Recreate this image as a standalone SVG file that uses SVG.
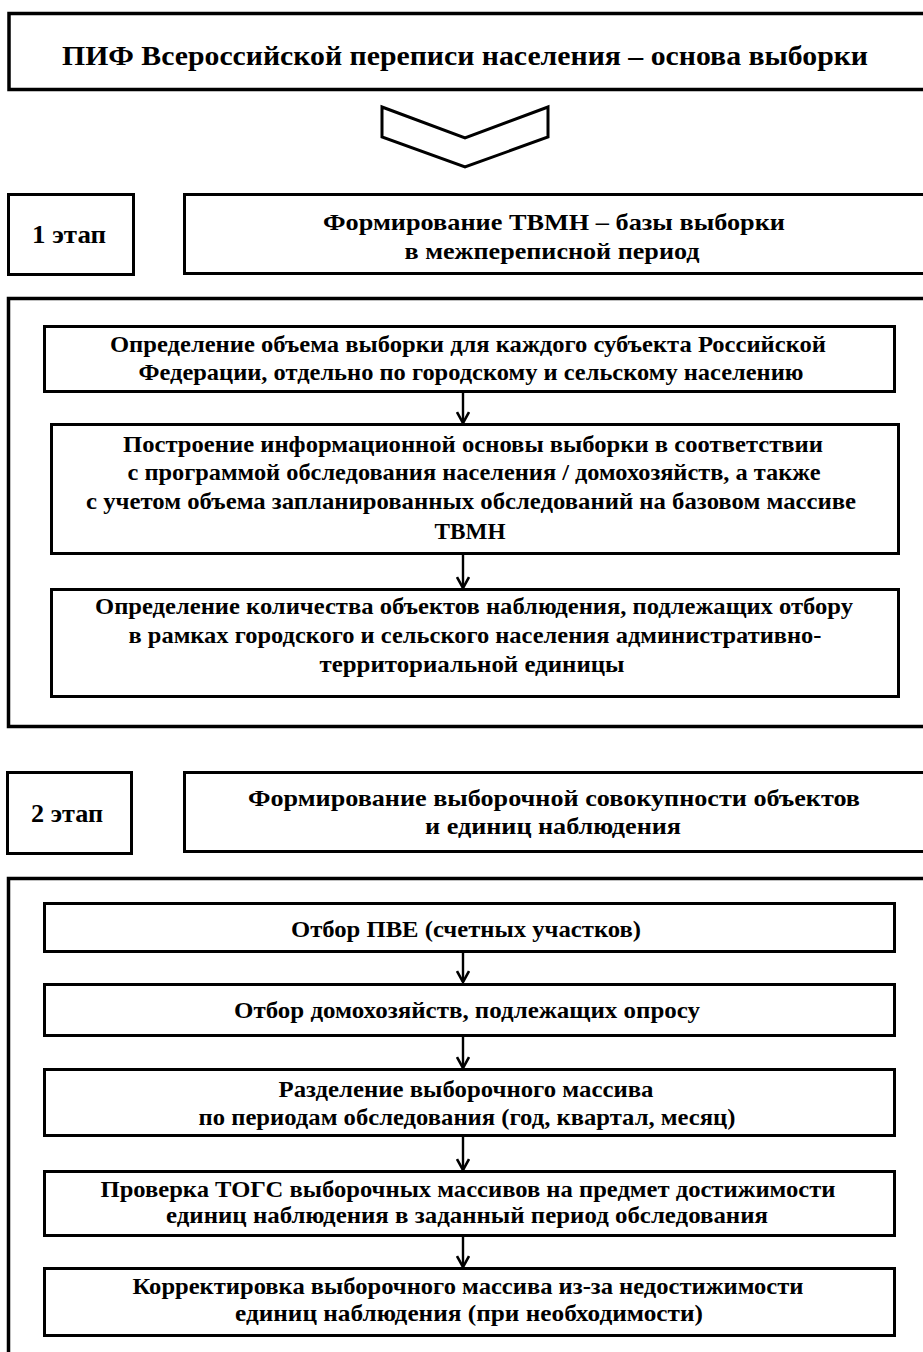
<svg xmlns="http://www.w3.org/2000/svg" width="923" height="1352" viewBox="0 0 923 1352">
<style>
  .box { fill: #ffffff; stroke: #000000; stroke-width: 3; }
  .outer { fill: #ffffff; stroke: #000000; stroke-width: 3.5; }
  .t { font-family: "Liberation Serif", "Times New Roman", serif; font-weight: bold; fill: #000000; text-anchor: middle; }
  .hdr { font-size: 27px; }
  .ttl { font-size: 24px; }
  .stg { font-size: 25px; }
  .in { font-size: 23px; }
  .conn { stroke: #000000; stroke-width: 2.4; fill: none; }
</style>
<defs>
  <marker id="arr" viewBox="0 0 14 14" refX="12" refY="7" markerWidth="14" markerHeight="14" markerUnits="userSpaceOnUse" orient="auto">
    <path d="M1,1 L12,7 L1,13" fill="none" stroke="#000000" stroke-width="2.6"/>
  </marker>
</defs>
<rect x="0" y="0" width="923" height="1352" fill="#ffffff"/>

<g id="header">
  <rect class="outer" x="9" y="13.5" width="930" height="76"/>
  <text class="t hdr" x="465" y="65" textLength="806" lengthAdjust="spacingAndGlyphs">ПИФ Всероссийской переписи населения – основа выборки</text>
</g>

<g id="chevron">
  <polygon points="382,107 465,138 548,107 548,137 465,167 382,137" fill="#ffffff" stroke="#000000" stroke-width="3" stroke-linejoin="miter"/>
</g>

<g id="stage1-label">
  <rect class="box" x="8.5" y="194.5" width="125" height="80"/>
  <text class="t stg" x="69" y="243" textLength="74" lengthAdjust="spacingAndGlyphs">1 этап</text>
</g>

<g id="stage1-title">
  <rect class="box" x="184.5" y="194.5" width="760" height="79"/>
  <text class="t ttl" x="554" y="230" textLength="462" lengthAdjust="spacingAndGlyphs">Формирование ТВМН – базы выборки</text>
  <text class="t ttl" x="552" y="259" textLength="295" lengthAdjust="spacingAndGlyphs">в межпереписной период</text>
</g>

<g id="stage1-frame">
  <rect class="outer" x="8.5" y="298.5" width="930" height="428"/>
</g>

<g id="step-a">
  <rect class="box" x="44.5" y="326.5" width="850" height="65"/>
  <text class="t in" x="468" y="352" textLength="716" lengthAdjust="spacingAndGlyphs">Определение объема выборки для каждого субъекта Российской</text>
  <text class="t in" x="471" y="380" textLength="665" lengthAdjust="spacingAndGlyphs">Федерации, отдельно по городскому и сельскому населению</text>
</g>

<g id="step-b">
  <rect class="box" x="51.5" y="424.5" width="847" height="129"/>
  <text class="t in" x="473" y="452" textLength="700" lengthAdjust="spacingAndGlyphs">Построение информационной основы выборки в соответствии</text>
  <text class="t in" x="474" y="480" textLength="693" lengthAdjust="spacingAndGlyphs">с программой обследования населения / домохозяйств, а также</text>
  <text class="t in" x="471" y="509" textLength="770" lengthAdjust="spacingAndGlyphs">с учетом объема запланированных обследований на базовом массиве</text>
  <text class="t in" x="470" y="539" textLength="71" lengthAdjust="spacingAndGlyphs">ТВМН</text>
</g>

<g id="step-c">
  <rect class="box" x="51.5" y="589.5" width="847" height="107"/>
  <text class="t in" x="474" y="614" textLength="758" lengthAdjust="spacingAndGlyphs">Определение количества объектов наблюдения, подлежащих отбору</text>
  <text class="t in" x="475" y="643" textLength="693" lengthAdjust="spacingAndGlyphs">в рамках городского и сельского населения административно-</text>
  <text class="t in" x="472" y="672" textLength="305" lengthAdjust="spacingAndGlyphs">территориальной единицы</text>
</g>

<g id="stage2-label">
  <rect class="box" x="7.5" y="772.5" width="124" height="81"/>
  <text class="t stg" x="67" y="822" textLength="72" lengthAdjust="spacingAndGlyphs">2 этап</text>
</g>

<g id="stage2-title">
  <rect class="box" x="184.5" y="772.5" width="760" height="79"/>
  <text class="t ttl" x="554" y="806" textLength="612" lengthAdjust="spacingAndGlyphs">Формирование выборочной совокупности объектов</text>
  <text class="t ttl" x="553" y="834" textLength="256" lengthAdjust="spacingAndGlyphs">и единиц наблюдения</text>
</g>

<g id="stage2-frame">
  <rect class="outer" x="8.5" y="878.5" width="930" height="500"/>
</g>

<g id="step-d">
  <rect class="box" x="44.5" y="903.5" width="850" height="48"/>
  <text class="t in" x="466" y="937" textLength="350" lengthAdjust="spacingAndGlyphs">Отбор ПВЕ (счетных участков)</text>
</g>

<g id="step-e">
  <rect class="box" x="44.5" y="984.5" width="850" height="51"/>
  <text class="t in" x="467" y="1018" textLength="466" lengthAdjust="spacingAndGlyphs">Отбор домохозяйств, подлежащих опросу</text>
</g>

<g id="step-f">
  <rect class="box" x="44.5" y="1069.5" width="850" height="66"/>
  <text class="t in" x="466" y="1097" textLength="375" lengthAdjust="spacingAndGlyphs">Разделение выборочного массива</text>
  <text class="t in" x="467" y="1125" textLength="537" lengthAdjust="spacingAndGlyphs">по периодам обследования (год, квартал, месяц)</text>
</g>

<g id="step-g">
  <rect class="box" x="44.5" y="1171.5" width="850" height="64"/>
  <text class="t in" x="468" y="1197" textLength="735" lengthAdjust="spacingAndGlyphs">Проверка ТОГС выборочных массивов на предмет достижимости</text>
  <text class="t in" x="467" y="1223" textLength="602" lengthAdjust="spacingAndGlyphs">единиц наблюдения в заданный период обследования</text>
</g>

<g id="step-h">
  <rect class="box" x="44.5" y="1268.5" width="850" height="67"/>
  <text class="t in" x="468" y="1294" textLength="671" lengthAdjust="spacingAndGlyphs">Корректировка выборочного массива из-за недостижимости</text>
  <text class="t in" x="469" y="1321" textLength="468" lengthAdjust="spacingAndGlyphs">единиц наблюдения (при необходимости)</text>
</g>

<g id="connectors">
  <line class="conn" x1="463" y1="393" x2="463" y2="423" marker-end="url(#arr)"/>
  <line class="conn" x1="463" y1="555" x2="463" y2="588" marker-end="url(#arr)"/>
  <line class="conn" x1="463" y1="953" x2="463" y2="982" marker-end="url(#arr)"/>
  <line class="conn" x1="463" y1="1037" x2="463" y2="1068" marker-end="url(#arr)"/>
  <line class="conn" x1="463" y1="1137" x2="463" y2="1170" marker-end="url(#arr)"/>
  <line class="conn" x1="463" y1="1237" x2="463" y2="1267" marker-end="url(#arr)"/>
</g>
</svg>
